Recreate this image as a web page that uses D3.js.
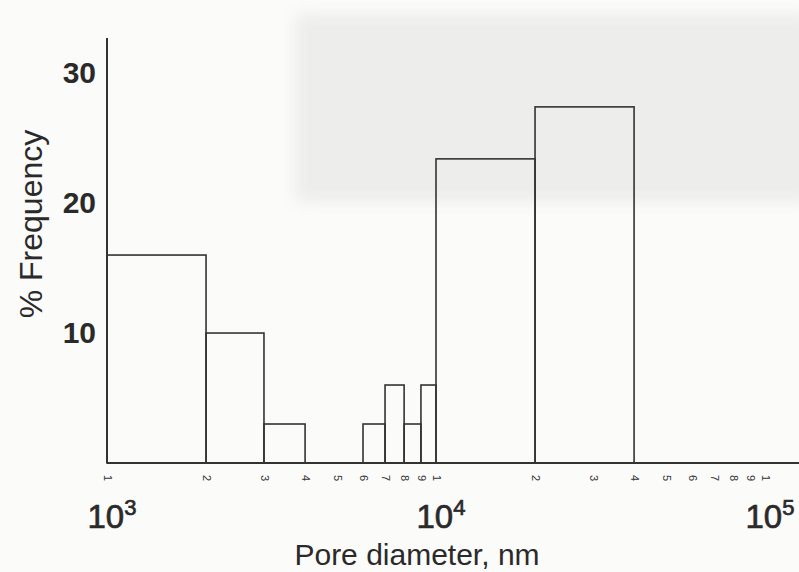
<!DOCTYPE html>
<html>
<head>
<meta charset="utf-8">
<script src="https://cdn.jsdelivr.net/npm/d3@7"></script>
<style>
  body { margin: 0; background: #fbfbfa; }
  svg { display: block; font-family: "Liberation Sans", Arial, sans-serif; }
  .bar { fill: none; stroke: #333; stroke-width: 1.6px; }
  .axis-line { stroke: #333; stroke-width: 2px; }
  .minor text { font-size: 11px; fill: #333; }
  .y text { font-size: 30px; font-weight: bold; fill: #2a2a2a; }
</style>
</head>
<body>
<div id="chart"></div>
<script>
// Pore-size histogram, log x axis
var binStart  = [1000, 2000, 3000, 6000, 7000, 8000, 9000, 10000, 20000];
var binEnd    = [2000, 3000, 4000, 7000, 8000, 9000, 10000, 20000, 40000];
var frequency = [16, 10, 3, 3, 6, 3, 6, 23.4, 27.4];

var yTicks = [10, 20, 30];
var decades = [1000, 10000, 100000];
var decadeExp = ["3", "4", "5"];
var minorTicks = [1000, 2000, 3000, 4000, 5000, 6000, 7000, 8000, 9000,
                  10000, 20000, 30000, 40000, 50000, 60000, 70000, 80000, 90000, 100000];

var width = 799, height = 572;

var x = d3.scaleLog()
    .domain([1000, 100000])
    .range([107, 765]);

var y = d3.scaleLinear()
    .domain([0, 32.7])
    .range([463, 38]);

var svg = d3.select("#chart").append("svg")
    .attr("width", width)
    .attr("height", height);

// faint photo area bleeding through the scan
svg.append("defs").append("filter")
    .attr("id", "soft")
    .attr("x", "-10%").attr("y", "-10%")
    .attr("width", "120%").attr("height", "120%")
  .append("feGaussianBlur")
    .attr("stdDeviation", 8);

svg.append("rect")
    .attr("x", 295).attr("y", 14)
    .attr("width", 520).attr("height", 188)
    .attr("fill", "#ededec")
    .attr("filter", "url(#soft)");

var bars = binStart.map(function(d, i) {
  return {x0: d, x1: binEnd[i], f: frequency[i]};
});

svg.selectAll(".bar")
    .data(bars)
  .enter().append("rect")
    .attr("class", "bar")
    .attr("x", function(d) { return x(d.x0); })
    .attr("y", function(d) { return y(d.f); })
    .attr("width", function(d) { return x(d.x1) - x(d.x0); })
    .attr("height", function(d) { return y(0) - y(d.f); });

// minor tick digits, rotated
var xAxis = d3.axisBottom(x)
    .tickValues(minorTicks)
    .tickSize(0)
    .tickFormat(function(d) { return String(d).charAt(0); });

var gx = svg.append("g")
    .attr("class", "minor")
    .attr("transform", "translate(0," + y(0) + ")")
    .call(xAxis);
gx.select(".domain").remove();
gx.selectAll("text")
    .attr("x", 15)
    .attr("y", 0)
    .attr("dy", ".35em")
    .attr("transform", "rotate(90)")
    .style("text-anchor", "middle");

svg.append("line")
    .attr("class", "axis-line")
    .attr("x1", x(1000)).attr("x2", width)
    .attr("y1", y(0)).attr("y2", y(0));

var yAxis = d3.axisLeft(y)
    .tickValues(yTicks)
    .tickSize(0)
    .tickPadding(11);

var gy = svg.append("g")
    .attr("class", "y")
    .attr("transform", "translate(" + x(1000) + ",0)")
    .call(yAxis);
gy.select(".domain").remove();

svg.append("line")
    .attr("class", "axis-line")
    .attr("x1", x(1000)).attr("x2", x(1000))
    .attr("y1", y(0)).attr("y2", y.range()[1]);

// decade labels
var dec = svg.selectAll(".decade")
    .data(decades)
  .enter().append("text")
    .attr("class", "decade")
    .attr("x", function(d) { return x(d) + 5; })
    .attr("y", 528)
    .attr("text-anchor", "middle")
    .style("font-size", "33px")
    .style("fill", "#2a2a2a")
    .style("stroke", "#2a2a2a")
    .style("stroke-width", "0.7px");
dec.append("tspan").text("10");
dec.append("tspan")
    .attr("dy", -13)
    .style("font-size", "22px")
    .text(function(d, i) { return decadeExp[i]; });

svg.append("text")
    .attr("x", 417)
    .attr("y", 565)
    .attr("text-anchor", "middle")
    .style("font-size", "30px")
    .style("fill", "#2a2a2a")
    .text("Pore diameter, nm");

svg.append("text")
    .attr("transform", "translate(42,224) rotate(-90)")
    .attr("text-anchor", "middle")
    .style("font-size", "32px")
    .style("fill", "#2a2a2a")
    .text("% Frequency");
</script>
</body>
</html>
